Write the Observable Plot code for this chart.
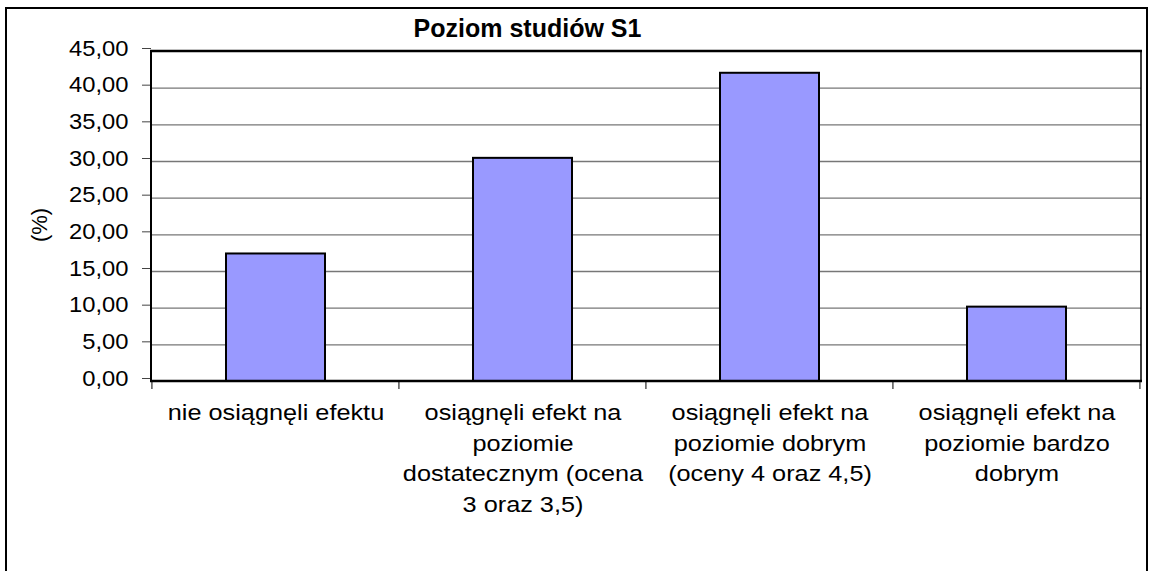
<!DOCTYPE html>
<html>
<head>
<meta charset="utf-8">
<script src="https://cdn.jsdelivr.net/npm/d3@7"></script>
<script src="https://cdn.jsdelivr.net/npm/@observablehq/plot@0.6"></script>
<style>
  html, body { margin: 0; padding: 0; background: #fff; }
  body { width: 1149px; height: 571px; overflow: hidden; position: relative; font-family: "Liberation Sans", Arial, sans-serif; }
  #outer { position: absolute; left: 5px; top: 7px; width: 1143px; height: 620px; border: 2px solid #000; box-sizing: border-box; pointer-events: none; }
  #chart { position: absolute; left: 0; top: 0; }
</style>
</head>
<body>
<div id="chart"></div>
<div id="outer"></div>
<script>
const title = "Poziom studiów S1";
const yLabel = "(%)";
const categories = [
  "nie osiągnęli efektu",
  "osiągnęli efekt na poziomie dostatecznym (ocena 3 oraz 3,5)",
  "osiągnęli efekt na poziomie dobrym (oceny 4 oraz 4,5)",
  "osiągnęli efekt na poziomie bardzo dobrym"
];
const xTickLabels = [
  "nie osiągnęli efektu",
  "osiągnęli efekt na\npoziomie\ndostatecznym (ocena\n3 oraz 3,5)",
  "osiągnęli efekt na\npoziomie dobrym\n(oceny 4 oraz 4,5)",
  "osiągnęli efekt na\npoziomie bardzo\ndobrym"
];
const values = [17.39, 30.43, 42.03, 10.14];
const yTicks = [0, 5, 10, 15, 20, 25, 30, 35, 40, 45];

const data = categories.map((c, i) => ({category: c, value: values[i]}));
const fmt = d => d.toFixed(2).replace(".", ",");

function frameLines(index, scales, vals, dims) {
  const {width, height, marginTop, marginRight, marginBottom, marginLeft} = dims;
  const x = scales.x;
  const l = marginLeft, r = width - marginRight, t = marginTop, b = height - marginBottom;
  const starts = categories.map(c => x(c));
  const bw = typeof x.bandwidth === "number" ? x.bandwidth : (starts[1] - starts[0]) * 0.4;
  const centers = starts.map(s => s + bw / 2);
  const step = centers[1] - centers[0];
  const bounds = [centers[0] - step / 2, ...d3.range(1, centers.length).map(i => (centers[i - 1] + centers[i]) / 2), centers[centers.length - 1] + step / 2];
  const g = d3.create("svg:g");
  g.selectAll("line").data(bounds).join("line")
    .attr("x1", d => d).attr("x2", d => d).attr("y1", b).attr("y2", b + 8)
    .attr("stroke", "#555").attr("stroke-width", 1.5);
  g.append("line").attr("x1", l).attr("x2", l).attr("y1", t).attr("y2", b).attr("stroke", "#000").attr("stroke-width", 2);
  g.append("line").attr("x1", r).attr("x2", r).attr("y1", t).attr("y2", b).attr("stroke", "#000").attr("stroke-width", 1.5);
  g.append("line").attr("x1", l - 1).attr("x2", r + 1).attr("y1", t).attr("y2", t).attr("stroke", "#000").attr("stroke-width", 2.5);
  g.append("line").attr("x1", l - 1).attr("x2", r + 1).attr("y1", b).attr("y2", b).attr("stroke", "#000").attr("stroke-width", 2.5);
  g.append("text")
    .attr("transform", `translate(${l - 112},${(t + b) / 2 + 9}) rotate(-90)`)
    .attr("text-anchor", "middle").attr("dy", "0.35em")
    .attr("font-size", 22).attr("fill", "#000")
    .text(yLabel);
  return g.node();
}

const chart = Plot.plot({
  width: 1149,
  height: 571,
  marginLeft: 151,
  marginRight: 8,
  marginTop: 51,
  marginBottom: 190,
  style: { fontFamily: "Liberation Sans, Arial, sans-serif", background: "transparent", overflow: "visible", color: "#000" },
  x: { type: "band", domain: categories, paddingInner: 0.6, paddingOuter: 0.3, align: 0.5 },
  y: { domain: [0, 45] },
  marks: [
    Plot.gridY(yTicks.filter(v => v > 0 && v < 45), { stroke: "#777", strokeOpacity: 1, strokeWidth: 1.3 }),
    Plot.barY(data, { x: "category", y: "value", fill: "#9999ff", stroke: "#000", strokeWidth: 2 }),
    Plot.axisY({ ticks: yTicks, tickFormat: fmt, tickSize: 9, tickPadding: 14, fontSize: 22, dy: -3, stroke: "#444", label: null }),
    Plot.axisX({ tickSize: 0, tickPadding: 17, fontSize: 22, lineHeight: 1.39, label: null,
      tickFormat: d => xTickLabels[categories.indexOf(d)] }),
    Plot.text([title], { text: d => d, frameAnchor: "top", dx: -119, dy: -32.5, fontSize: 25, fontWeight: "bold" }),
    frameLines
  ]
});
document.getElementById("chart").append(chart);

function stretch(sel, s) {
  chart.querySelectorAll(sel).forEach(t => {
    const tr = t.getAttribute("transform");
    if (tr) t.setAttribute("transform", tr + ` scale(${s},1)`);
  });
}
stretch('g[aria-label="x-axis tick label"] text', 1.15);
stretch('g[aria-label="y-axis tick label"] text', 1.08);
</script>
</body>
</html>
